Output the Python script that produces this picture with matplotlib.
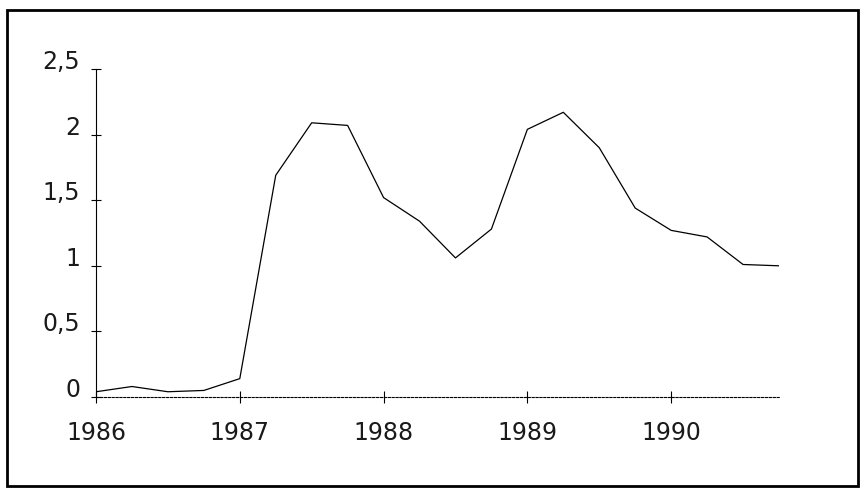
import matplotlib
matplotlib.use("Agg")
import matplotlib.pyplot as plt
from matplotlib.patches import Rectangle

quarters = [1986 + 0.25 * i for i in range(20)]
values = [0.04, 0.08, 0.04, 0.05, 0.14, 1.69, 2.09, 2.07, 1.52, 1.34,
          1.06, 1.28, 2.04, 2.17, 1.90, 1.44, 1.27, 1.22, 1.01, 1.00]
x_ticks = [1986, 1987, 1988, 1989, 1990]
x_labels = ["1986", "1987", "1988", "1989", "1990"]
y_ticks = [0, 0.5, 1, 1.5, 2, 2.5]
y_labels = ["0", "0,5", "1", "1,5", "2", "2,5"]

W, H = 860, 490
fig = plt.figure(figsize=(W / 100, H / 100), dpi=100)
fig.patch.set_facecolor("white")

# outer frame
fig.add_artist(Rectangle((7 / W, 1 - 486 / H), (858 - 7) / W, (486 - 10) / H,
                         transform=fig.transFigure, fill=False,
                         edgecolor="black", linewidth=2.0))

ax = fig.add_axes([96 / W, 1 - 397 / H, (779 - 96) / W, (397 - 69) / H])
ax.plot(quarters, values, color="black", linewidth=0.9)

ax.set_xlim(1986, 1990.75)
ax.set_ylim(0, 2.5)

for s in ["top", "right"]:
    ax.spines[s].set_visible(False)
ax.spines["left"].set_linewidth(0.8)
ax.spines["bottom"].set_linewidth(0.8)
ax.spines["bottom"].set_linestyle((0, (2, 1.5)))

ax.set_xticks(x_ticks)
ax.set_xticklabels(x_labels)
ax.set_yticks(y_ticks)
ax.set_yticklabels(y_labels)

ax.tick_params(axis="x", direction="inout", length=9, width=0.8, pad=13,
               labelsize=17)
ax.tick_params(axis="y", direction="inout", length=7, width=0.8, pad=8,
               labelsize=17)
for lab in ax.get_yticklabels():
    lab.set_verticalalignment("baseline")
for lab in ax.get_xticklabels() + ax.get_yticklabels():
    lab.set_fontfamily("DejaVu Sans")
    lab.set_color("#1a1a1a")

fig.savefig("out.png", dpi=100, facecolor="white")
